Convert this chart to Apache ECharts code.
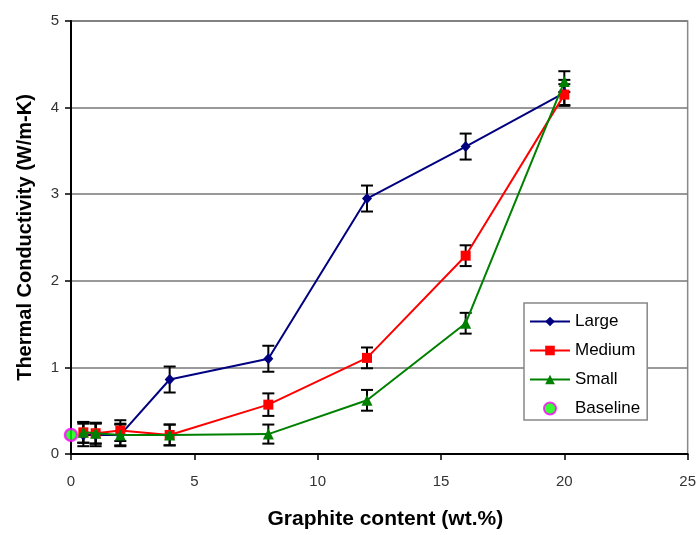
<!DOCTYPE html>
<html>
<head>
<meta charset="utf-8">
<script src="https://cdn.jsdelivr.net/npm/echarts@6/dist/echarts.min.js"></script>
<style>html,body{margin:0;padding:0;background:#fff;}#c{width:699px;height:535px;}</style>
</head>
<body>
<div id="c"></div>
<script>
const xValues = [0.5, 1, 2, 4, 8, 12, 16, 20];
const largeY = [0.22, 0.22, 0.22, 0.86, 1.10, 2.95, 3.55, 4.17];
const largeErr = [0.13, 0.13, 0.13, 0.15, 0.15, 0.15, 0.15, 0.15];
const mediumY = [0.25, 0.24, 0.27, 0.22, 0.57, 1.11, 2.29, 4.15];
const mediumErr = [0.12, 0.12, 0.12, 0.12, 0.13, 0.12, 0.12, 0.12];
const smallY = [0.25, 0.24, 0.22, 0.22, 0.23, 0.62, 1.51, 4.30];
const smallErr = [0.12, 0.12, 0.12, 0.12, 0.11, 0.12, 0.12, 0.12];
const baselineX = [0];
const baselineY = [0.22];
const xTicks = [0, 5, 10, 15, 20, 25];
const yTicks = [0, 1, 2, 3, 4, 5];

const FONT = 'Liberation Sans, Arial, sans-serif';

function pts(xs, ys) { return xs.map((x, i) => [x, ys[i]]); }
function errs(xs, ys, es) { return xs.map((x, i) => [x, ys[i] - es[i], ys[i] + es[i]]); }

function errSeries(name, data) {
  return {
    type: 'custom', name: name, data: data, z: 1, silent: true,
    encode: { x: 0, y: [1, 2] },
    renderItem: function (params, api) {
      const x = api.value(0);
      const lo = api.coord([x, api.value(1)]);
      const hi = api.coord([x, api.value(2)]);
      const w = 6;
      const st = { stroke: '#000', lineWidth: 2 };
      return {
        type: 'group',
        children: [
          { type: 'line', shape: { x1: lo[0], y1: lo[1], x2: hi[0], y2: hi[1] }, style: st },
          { type: 'line', shape: { x1: lo[0] - w, y1: lo[1], x2: lo[0] + w, y2: lo[1] }, style: st },
          { type: 'line', shape: { x1: hi[0] - w, y1: hi[1], x2: hi[0] + w, y2: hi[1] }, style: st }
        ]
      };
    }
  };
}

function lineSeries(name, color, symbol, size, data, z) {
  return {
    type: 'line', name: name, data: data, z: z,
    symbol: symbol, symbolSize: size, showAllSymbol: true,
    lineStyle: { color: color, width: 2 },
    itemStyle: { color: color, borderWidth: 0 },
    emphasis: { disabled: true },
    animation: false
  };
}

const chart = echarts.init(document.getElementById('c'));
chart.setOption({
  animation: false,
  backgroundColor: '#fff',
  grid: { left: 71, right: 7, top: 21, bottom: 79, show: true, borderColor: '#888', borderWidth: 1.5, backgroundColor: 'transparent' },
  xAxis: {
    type: 'value', min: xTicks[0], max: xTicks[xTicks.length - 1], interval: 5,
    name: 'Graphite content (wt.%)', nameLocation: 'middle', nameGap: 55,
    nameTextStyle: { fontFamily: FONT, fontSize: 21, fontWeight: 'bold', color: '#000', padding: [0, 0, 0, 12] },
    axisLine: { show: true, lineStyle: { color: '#000', width: 2 } },
    axisTick: { show: true, inside: false, length: 6, lineStyle: { color: '#000', width: 1.5 } },
    axisLabel: { fontFamily: FONT, fontSize: 15, color: '#333', margin: 20 },
    splitLine: { show: false }
  },
  yAxis: {
    type: 'value', min: yTicks[0], max: yTicks[yTicks.length - 1], interval: 1,
    name: 'Thermal Conductivity (W/m-K)', nameLocation: 'middle', nameGap: 36,
    nameTextStyle: { fontFamily: FONT, fontSize: 20, fontWeight: 'bold', color: '#000' },
    axisLine: { show: true, lineStyle: { color: '#000', width: 2 } },
    axisTick: { show: true, inside: false, length: 6, lineStyle: { color: '#000', width: 1.5 } },
    axisLabel: { fontFamily: FONT, fontSize: 15, color: '#333', margin: 12 },
    splitLine: { show: true, lineStyle: { color: '#777', width: 1.5 } }
  },
  legend: {
    show: true, orient: 'vertical', left: 524, top: 303,
    data: ['Large', 'Medium', 'Small', 'Baseline'],
    itemWidth: 40, itemHeight: 12, itemGap: 12,
    padding: [10, 7, 3, 5],
    backgroundColor: '#fff', borderColor: '#888', borderWidth: 1.5,
    textStyle: { fontFamily: FONT, fontSize: 17, color: '#000' },
    z: 10
  },
  series: [
    errSeries('eL', errs(xValues, largeY, largeErr)),
    errSeries('eM', errs(xValues, mediumY, mediumErr)),
    errSeries('eS', errs(xValues, smallY, smallErr)),
    lineSeries('Large', '#000080', 'diamond', [10, 11], pts(xValues, largeY), 2),
    lineSeries('Medium', '#ff0000', 'rect', 10, pts(xValues, mediumY), 3),
    lineSeries('Small', '#008000', 'triangle', 11, pts(xValues, smallY), 4),
    {
      type: 'scatter', name: 'Baseline', data: pts(baselineX, baselineY), z: 5,
      symbol: 'circle', symbolSize: 12,
      itemStyle: { color: '#00ff00', borderColor: '#ff00ff', borderWidth: 2.5 },
      emphasis: { disabled: true }
    }
  ]
});
</script>
</body>
</html>
